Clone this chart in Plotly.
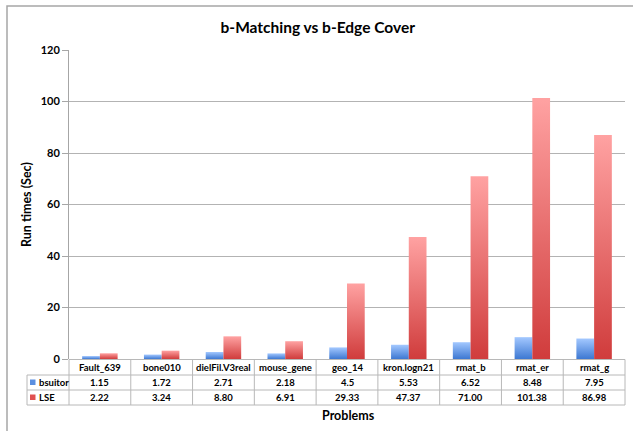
import plotly.graph_objects as go

# Problem instances and run times (seconds)
problems = ["Fault_639", "bone010", "dielFil.V3real", "mouse_gene", "geo_14",
            "kron.logn21", "rmat_b", "rmat_er", "rmat_g"]
bsuitor = [1.15, 1.72, 2.71, 2.18, 4.5, 5.53, 6.52, 8.48, 7.95]
lse = [2.22, 3.24, 8.80, 6.91, 29.33, 47.37, 71.00, 101.38, 86.98]
y_ticks = [0, 20, 40, 60, 80, 100, 120]

W, H = 633, 431
L, R, T, B = 69, 625, 50, 359          # plot area in pixels
FONT = "Lato"
GRID = "#b3b3b3"
TEXT = "#000000"

series = [
    ("bsuitor", bsuitor, "#3d78d2", "#a3c8ff", "#5b8fe0", lambda v: str(v)),
    ("LSE", lse, "#d03c3c", "#ffa2a2", "#e05050", lambda v: f"{v:.2f}"),
]


def px_x(p):
    return (p - L) / (R - L)


def px_y(p):
    return (B - p) / (B - T)


fig = go.Figure()

# Bars: one filled rectangle per value, shaded dark at the base to light at the top
bar_w = 0.287
for s_idx, (name, vals, dark, light, key, _) in enumerate(series):
    for i, v in enumerate(vals):
        x0 = i - bar_w if s_idx == 0 else i
        x1 = x0 + bar_w
        fig.add_trace(go.Scatter(
            x=[x0, x0, x1, x1, x0], y=[0, v, v, 0, 0],
            mode="lines", fill="toself", line=dict(width=0),
            fillcolor=dark,
            fillgradient=dict(type="vertical", start=0, stop=v,
                              colorscale=[[0, dark], [1, light]]),
            name=name, showlegend=False, hoverinfo="skip",
        ))

shapes = []
annotations = []


def label(x, y, text, font, xanchor="center", **kw):
    annotations.append(dict(xref="paper", yref="paper", x=x, y=y, text=text,
                            xanchor=xanchor, yanchor="middle", showarrow=False,
                            font=font, **kw))


# Outer frame
shapes.append(dict(type="rect", xref="paper", yref="paper",
                   x0=px_x(7), x1=px_x(660), y0=px_y(460), y1=px_y(6),
                   line=dict(color="#a6a6a6", width=1.5), layer="below"))

# Data table below the axis
row_px = [359.5, 375, 390, 405]
tbl_left = 27
n = len(problems)
line_style = dict(color="#b8b8b8", width=1)
shapes.append(dict(type="line", xref="paper", yref="paper",
                   x0=0, x1=1, y0=px_y(row_px[0]), y1=px_y(row_px[0]), line=line_style))
for rp in row_px[1:]:
    shapes.append(dict(type="line", xref="paper", yref="paper",
                       x0=px_x(tbl_left), x1=1, y0=px_y(rp), y1=px_y(rp), line=line_style))
for k in range(n + 1):
    shapes.append(dict(type="line", xref="paper", yref="paper",
                       x0=k / n, x1=k / n, y0=px_y(row_px[0]), y1=px_y(row_px[-1]),
                       line=line_style))
shapes.append(dict(type="line", xref="paper", yref="paper",
                   x0=px_x(tbl_left), x1=px_x(tbl_left),
                   y0=px_y(row_px[1]), y1=px_y(row_px[-1]), line=line_style))

cell_font = dict(family=FONT, size=9.5, color=TEXT, weight="bold")
for k, p in enumerate(problems):
    label((k + 0.5) / n, px_y((row_px[0] + row_px[1]) / 2), p, cell_font)
for r, (name, vals, dark, light, key, fmt) in enumerate(series):
    yc = (row_px[r + 1] + row_px[r + 2]) / 2
    for k, v in enumerate(vals):
        label((k + 0.5) / n, px_y(yc), fmt(v), cell_font)
    # legend key
    shapes.append(dict(type="rect", xref="paper", yref="paper",
                       x0=px_x(30), x1=px_x(35.5), y0=px_y(yc + 2.5), y1=px_y(yc - 3),
                       fillcolor=key, line=dict(width=0)))
    label(px_x(36.5), px_y(yc), name, cell_font, xanchor="left")

# Axis titles
title_font = dict(family=FONT, size=12.5, color=TEXT, weight="bold")
label(px_x(27), px_y(205), "Run times (Sec)", title_font, textangle=-90)
label(px_x(348), px_y(415), "Problems", title_font)

fig.update_layout(
    width=W, height=H,
    margin=dict(l=L, r=W - R, t=T, b=H - B),
    paper_bgcolor="white", plot_bgcolor="white",
    title=dict(text="b-Matching vs b-Edge Cover", x=0.502, xanchor="center",
               y=1 - 28 / H, yanchor="middle",
               font=dict(family=FONT, size=15.5, color=TEXT, weight="bold")),
    xaxis=dict(range=[-0.5, n - 0.5], showticklabels=False, ticks="",
               showgrid=False, zeroline=False, showline=False, fixedrange=True),
    yaxis=dict(range=[0, 120], tickvals=y_ticks, showgrid=True, gridcolor=GRID,
               gridwidth=1, zeroline=False, showline=True, linecolor="#a6a6a6",
               linewidth=1, ticks="outside", ticklen=6, tickcolor="#a6a6a6",
               tickfont=dict(family=FONT, size=11, color=TEXT, weight="bold"),
               fixedrange=True),
    shapes=shapes, annotations=annotations,
    showlegend=False,
)

fig.write_html("out.html")
